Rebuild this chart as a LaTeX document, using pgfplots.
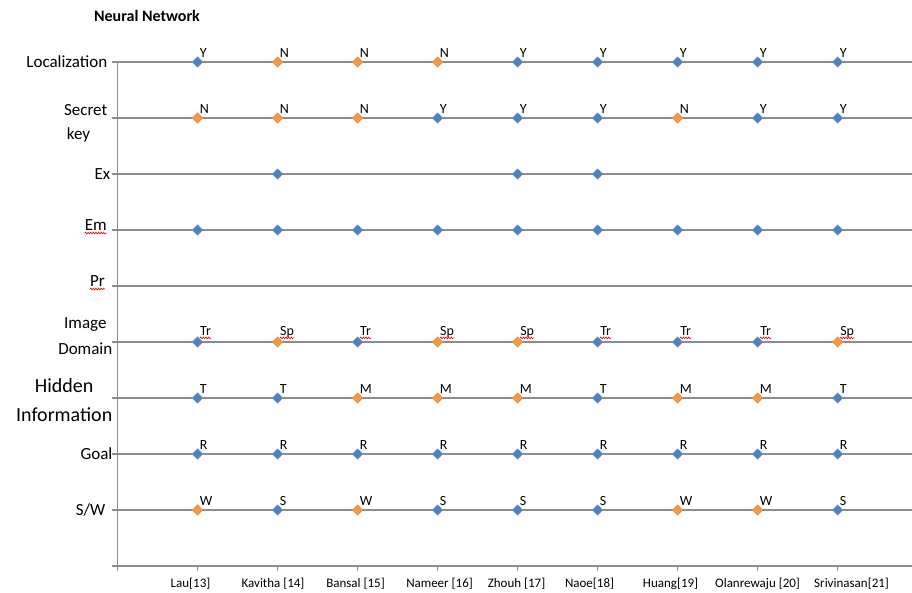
\documentclass[border=0pt]{standalone}
\usepackage{pgfplots}
\pgfplotsset{compat=1.18}
\usetikzlibrary{decorations.pathmorphing}
\usepackage{fontspec}
\setmainfont{Carlito}
\newcommand\redwave[1]{\tikz[baseline=(wt.base)]{\node[inner sep=0pt, anchor=base west] (wt) {#1};
  \draw[red!90!black, line width=0.6pt, decorate, decoration={snake, amplitude=0.9pt, segment length=2.6pt}] ([yshift=-2.4pt]wt.base west) -- ([yshift=-2.4pt]wt.base east);}}
\definecolor{xblue}{HTML}{4F81BD}
\definecolor{xorange}{HTML}{F79646}
\definecolor{gridgray}{HTML}{8C8C8C}
\begin{document}
\begin{tikzpicture}
\begin{axis}[
  scale only axis, width=794.5pt, height=504pt,
  xmin=0, xmax=9.93, ymin=0, ymax=9,
  clip=false,
  axis lines=left,
  axis line style={-, draw=gridgray, line width=1.2pt},
  every inner x axis line/.append style={-},
  every inner y axis line/.append style={-},
  every outer x axis line/.append style={-},
  every outer y axis line/.append style={-},
  tick align=outside, major tick length=5pt,
  tick style={draw=gridgray, line width=1.2pt},
  ymajorgrids, grid style={draw=gridgray, line width=1.2pt},
  xtick={0,...,9},
  xticklabels={{},
    {Lau[13]\hspace*{14pt}},
    {Kavitha [14]\hspace*{9pt}},
    {Bansal [15]\hspace*{4pt}},
    {\hspace*{4pt}Nameer [16]},
    {Zhouh [17]\hspace*{2pt}},
    {Naoe[18]\hspace*{16pt}},
    {Huang[19]\hspace*{14pt}},
    {Olanrewaju [20]},
    {\hspace*{28pt}Srivinasan[21]}},
  xticklabel style={anchor=north, inner sep=0pt, yshift=-7pt, font=\fontsize{13}{15}\selectfont},
  ytick={0,...,9},
  yticklabels={{},
    {\hspace*{2pt}S/W\hspace*{2pt}},
    {Goal\hspace*{-5pt}},
    {\raisebox{-3pt}[\height][\depth]{\fontsize{20}{29}\selectfont\begin{tabular}{@{}c@{}}Hidden\\Information\end{tabular}}\hspace*{-5pt}},
    {\raisebox{6pt}[\height][\depth]{\fontsize{17}{26}\selectfont\begin{tabular}{@{}c@{}}Image\\Domain\end{tabular}}\hspace*{-5pt}},
    {\raisebox{3pt}[\height][\depth]{\redwave{Pr}}\hspace*{2pt}},
    {\raisebox{3pt}[\height][\depth]{\redwave{Em}}},
    {Ex\hspace*{-3pt}},
    {\raisebox{-5pt}[\height][\depth]{\fontsize{17}{24}\selectfont\begin{tabular}{@{}l@{}}Secret\\\,key\end{tabular}}},
    {Localization}},
  yticklabel style={anchor=east, inner sep=0pt, xshift=-5pt, font=\fontsize{17}{20}\selectfont},
  point meta=explicit symbolic,
  every node near coord/.append style={anchor=base west, inner sep=0pt, xshift=2pt, yshift=4.5pt, text=black, font=\fontsize{14}{16}\selectfont},
]
% blue, unlabeled (Ex, Em)
\addplot[only marks, mark=square*, mark size=3.6pt, mark options={rotate=45, fill=xblue, draw=xblue!85!white, line width=0.6pt}, point meta=none]
coordinates {(2,7) (5,7) (6,7) (1,6) (2,6) (3,6) (4,6) (5,6) (6,6) (7,6) (8,6) (9,6)};
% blue labelled
\addplot[only marks, mark=square*, mark size=3.6pt, mark options={rotate=45, fill=xblue, draw=xblue!85!white, line width=0.6pt}, nodes near coords]
coordinates {
(1,9) [Y] (5,9) [Y] (6,9) [Y] (7,9) [Y] (8,9) [Y] (9,9) [Y]
(4,8) [Y] (5,8) [Y] (6,8) [Y] (8,8) [Y] (9,8) [Y]
(1,3) [T] (2,3) [T] (6,3) [T] (9,3) [T]
(1,2) [R] (2,2) [R] (3,2) [R] (4,2) [R] (5,2) [R] (6,2) [R] (7,2) [R] (8,2) [R] (9,2) [R]
(2,1) [S] (4,1) [S] (5,1) [S] (6,1) [S] (9,1) [S]
};
% orange labelled
\addplot[only marks, mark=square*, mark size=3.6pt, mark options={rotate=45, fill=xorange, draw=xorange!80!gray, line width=0.6pt}, nodes near coords]
coordinates {
(2,9) [N] (3,9) [N] (4,9) [N]
(1,8) [N] (2,8) [N] (3,8) [N] (7,8) [N]
(3,3) [M] (4,3) [M] (5,3) [M] (7,3) [M] (8,3) [M]
(1,1) [W] (3,1) [W] (7,1) [W] (8,1) [W]
};
% image domain, blue
\addplot[only marks, mark=square*, mark size=3.6pt, mark options={rotate=45, fill=xblue, draw=xblue!85!white, line width=0.6pt}, nodes near coords={\expandafter\redwave\expandafter{\pgfplotspointmeta}}, every node near coord/.append style={yshift=2pt}]
coordinates {(1,4) [Tr] (3,4) [Tr] (6,4) [Tr] (7,4) [Tr] (8,4) [Tr]};
% image domain, orange
\addplot[only marks, mark=square*, mark size=3.6pt, mark options={rotate=45, fill=xorange, draw=xorange!80!gray, line width=0.6pt}, nodes near coords={\expandafter\redwave\expandafter{\pgfplotspointmeta}}, every node near coord/.append style={yshift=2pt}]
coordinates {(2,4) [Sp] (4,4) [Sp] (5,4) [Sp] (9,4) [Sp]};
\end{axis}
\node[font=\bfseries\fontsize{16}{18}\selectfont] at (29.5pt,550pt) {Neural Network};
\pgfresetboundingbox
\path (-117.5pt,-26pt) rectangle (794.5pt,566pt);
\end{tikzpicture}
\end{document}
